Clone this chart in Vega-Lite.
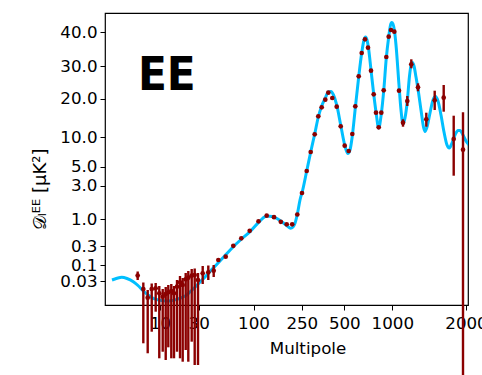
{
  "$schema": "https://vega.github.io/schema/vega-lite/v6.json",
  "width": 363,
  "height": 292,
  "autosize": {"type": "none"},
  "padding": {"left": 105, "top": 13, "right": 14, "bottom": 70},
  "background": "white",
  "config": {
    "view": {"stroke": "black", "strokeWidth": 1.2},
    "axis": {
      "domain": false, "grid": false, "ticks": true, "tickColor": "black", "tickSize": 5, "tickWidth": 1,
      "labelFont": "DejaVu Sans", "labelFontSize": 16.7, "labelColor": "black", "labelOverlap": false, "labelFlush": false,
      "titleFont": "DejaVu Sans", "titleFontSize": 16.7, "titleFontWeight": "normal", "titleColor": "black"
    }
  },
  "datasets": {
    "theory": [
      {"ell": 2, "D": 0.0344}, {"ell": 2.83, "D": 0.0418}, {"ell": 3.62, "D": 0.0462}, {"ell": 4.5, "D": 0.0409},
      {"ell": 5.55, "D": 0.029}, {"ell": 6.33, "D": 0.02357}, {"ell": 7.22, "D": 0.01571}, {"ell": 8.0, "D": 0.01},
      {"ell": 8.88, "D": 0.00822}, {"ell": 10, "D": 0.00715}, {"ell": 13.46, "D": 0.00677}, {"ell": 15.68, "D": 0.00688},
      {"ell": 18.63, "D": 0.00768}, {"ell": 21.21, "D": 0.00865}, {"ell": 23.8, "D": 0.01}, {"ell": 25.5, "D": 0.01429},
      {"ell": 28.97, "D": 0.02357}, {"ell": 31.66, "D": 0.02857}, {"ell": 38.05, "D": 0.0475}, {"ell": 44.43, "D": 0.0716},
      {"ell": 52.99, "D": 0.1053}, {"ell": 63.6, "D": 0.2016}, {"ell": 74.2, "D": 0.2957}, {"ell": 84.03, "D": 0.4763},
      {"ell": 95.53, "D": 0.6785}, {"ell": 120.19, "D": 0.9559}, {"ell": 140.99, "D": 1.1964}, {"ell": 157.45, "D": 1.1667},
      {"ell": 172.98, "D": 1.0476}, {"ell": 188.51, "D": 0.93}, {"ell": 204.97, "D": 0.8263}, {"ell": 214.91, "D": 0.7667},
      {"ell": 222.67, "D": 0.8004}, {"ell": 228.88, "D": 0.8963}, {"ell": 236.03, "D": 1.2976}, {"ell": 244.41, "D": 2.1488},
      {"ell": 255.29, "D": 2.744}, {"ell": 278.82, "D": 4.547}, {"ell": 302.35, "D": 7.475}, {"ell": 325.88, "D": 10.78},
      {"ell": 347.05, "D": 15.22}, {"ell": 367.05, "D": 18.09}, {"ell": 388.23, "D": 20.22}, {"ell": 405.87, "D": 22.07},
      {"ell": 421.75, "D": 22.22}, {"ell": 436.46, "D": 21.14}, {"ell": 455.28, "D": 18.36}, {"ell": 478.81, "D": 13.13},
      {"ell": 504.17, "D": 8.653}, {"ell": 535.42, "D": 7.222}, {"ell": 559.38, "D": 7.811}, {"ell": 583.34, "D": 10.26},
      {"ell": 614.59, "D": 17.57}, {"ell": 650.0, "D": 26.7}, {"ell": 681.26, "D": 33.88}, {"ell": 705.21, "D": 37.67},
      {"ell": 720.84, "D": 38.54}, {"ell": 736.47, "D": 37.67}, {"ell": 752.09, "D": 35.33}, {"ell": 778.13, "D": 28.86},
      {"ell": 806.26, "D": 21.45}, {"ell": 830.22, "D": 16.53}, {"ell": 858.34, "D": 12.35}, {"ell": 885.43, "D": 16.01},
      {"ell": 910.43, "D": 22.38}, {"ell": 937.51, "D": 32.42}, {"ell": 962.51, "D": 38.54}, {"ell": 981.27, "D": 42.04},
      {"ell": 993.77, "D": 42.77}, {"ell": 1009.5, "D": 42.33}, {"ell": 1029.85, "D": 40.29}, {"ell": 1050.2, "D": 36.21},
      {"ell": 1090.9, "D": 24.23}, {"ell": 1118.05, "D": 17.05}, {"ell": 1145.19, "D": 13.39}, {"ell": 1172.33, "D": 14.96},
      {"ell": 1203.54, "D": 19.4}, {"ell": 1233.39, "D": 27.01}, {"ell": 1257.81, "D": 30.67}, {"ell": 1274.09, "D": 31.11},
      {"ell": 1294.45, "D": 30.09}, {"ell": 1321.59, "D": 26.7}, {"ell": 1348.72, "D": 22.99}, {"ell": 1389.43, "D": 17.05},
      {"ell": 1423.35, "D": 12.61}, {"ell": 1443.71, "D": 11.44}, {"ell": 1470.84, "D": 12.61}, {"ell": 1511.55, "D": 16.27},
      {"ell": 1552.26, "D": 19.66}, {"ell": 1586.18, "D": 20.68}, {"ell": 1620.1, "D": 19.4}, {"ell": 1660.81, "D": 15.74},
      {"ell": 1701.52, "D": 11.31}, {"ell": 1742.22, "D": 8.653}, {"ell": 1773.43, "D": 8.148}, {"ell": 1810.07, "D": 8.99},
      {"ell": 1850.78, "D": 10.52}, {"ell": 1891.48, "D": 11.7}, {"ell": 1918.62, "D": 11.7}, {"ell": 1959.33, "D": 10.52},
      {"ell": 2000, "D": 9.327}, {"ell": 2054, "D": 8.485}
    ],
    "pts": [
      {"ell": 6.28, "D": 0.0541}, {"ell": 7.22, "D": 0.01857}, {"ell": 7.95, "D": 0.00855}, {"ell": 8.62, "D": 0.01857},
      {"ell": 9.28, "D": 0.01957}, {"ell": 9.88, "D": 0.01243}, {"ell": 11.4, "D": 0.00908}, {"ell": 12.95, "D": 0.01143},
      {"ell": 14.29, "D": 0.01386}, {"ell": 15.84, "D": 0.01571}, {"ell": 17.24, "D": 0.01243}, {"ell": 18.79, "D": 0.02186},
      {"ell": 20.34, "D": 0.02814}, {"ell": 21.73, "D": 0.02429}, {"ell": 23.28, "D": 0.0374}, {"ell": 24.63, "D": 0.0444},
      {"ell": 26.38, "D": 0.0532}, {"ell": 27.93, "D": 0.05625}, {"ell": 29.64, "D": 0.0344},
      {"ell": 35.11, "D": 0.0637}, {"ell": 42.26, "D": 0.0681}, {"ell": 49.16, "D": 0.0751}, {"ell": 55.04, "D": 0.1535},
      {"ell": 64.49, "D": 0.1888}, {"ell": 74.2, "D": 0.313}, {"ell": 84.42, "D": 0.5074}, {"ell": 95.15, "D": 0.7019},
      {"ell": 115.53, "D": 0.9482}, {"ell": 140.99, "D": 1.2143}, {"ell": 163.66, "D": 1.125}, {"ell": 184.78, "D": 0.9352},
      {"ell": 203.11, "D": 0.8704}, {"ell": 220.19, "D": 0.8704}, {"ell": 236.03, "D": 1.2857}, {"ell": 251.18, "D": 2.5655},
      {"ell": 278.82, "D": 4.547}, {"ell": 302.35, "D": 7.475}, {"ell": 325.88, "D": 10.705}, {"ell": 347.05, "D": 15.405},
      {"ell": 367.05, "D": 17.755}, {"ell": 388.23, "D": 19.739}, {"ell": 405.87, "D": 21.852}, {"ell": 429.4, "D": 20.216},
      {"ell": 455.28, "D": 17.911}, {"ell": 478.81, "D": 12.794}, {"ell": 504.17, "D": 8.535}, {"ell": 545.83, "D": 7.643},
      {"ell": 583.34, "D": 10.783}, {"ell": 614.59, "D": 18.016}, {"ell": 650.0, "D": 26.914}, {"ell": 681.26, "D": 33.877},
      {"ell": 715.63, "D": 37.871}, {"ell": 746.88, "D": 35.422}, {"ell": 778.13, "D": 28.642}, {"ell": 806.26, "D": 21.358},
      {"ell": 830.22, "D": 16.345}, {"ell": 858.34, "D": 12.533}, {"ell": 885.43, "D": 16.345}, {"ell": 910.43, "D": 22.593},
      {"ell": 937.51, "D": 32.711}, {"ell": 962.51, "D": 38.628}, {"ell": 986.47, "D": 40.583}, {"ell": 1027.14, "D": 40.087},
      {"ell": 1090.91, "D": 22.469}, {"ell": 1145.19, "D": 13.734}, {"ell": 1203.54, "D": 19.4}, {"ell": 1257.81, "D": 30.583},
      {"ell": 1348.72, "D": 23.518}, {"ell": 1461.35, "D": 14.621}, {"ell": 1575.33, "D": 19.582}, {"ell": 1697.45, "D": 20.309},
      {"ell": 1833.14, "D": 9.663}, {"ell": 1959.33, "D": 7.862}
    ],
    "bars": [
      {"ell": 6.28, "lo": 0.0344, "hi": 0.0716}, {"ell": 7.22, "lo": -0.0408, "hi": 0.02786}, {"ell": 7.95, "lo": -0.0569, "hi": 0.01714},
      {"ell": 8.62, "lo": -0.0221, "hi": 0.02643}, {"ell": 9.28, "lo": 0.00189, "hi": 0.02714}, {"ell": 9.88, "lo": -0.065, "hi": 0.02286},
      {"ell": 11.4, "lo": -0.0544, "hi": 0.01857}, {"ell": 12.95, "lo": -0.0677, "hi": 0.02143}, {"ell": 14.29, "lo": -0.0473, "hi": 0.02429},
      {"ell": 15.84, "lo": -0.065, "hi": 0.02571}, {"ell": 17.24, "lo": -0.065, "hi": 0.02286}, {"ell": 18.79, "lo": -0.0544, "hi": 0.0344},
      {"ell": 20.34, "lo": -0.065, "hi": 0.0519}, {"ell": 21.73, "lo": -0.0705, "hi": 0.0431}, {"ell": 23.28, "lo": -0.0516, "hi": 0.065},
      {"ell": 24.63, "lo": -0.0705, "hi": 0.0738}, {"ell": 26.38, "lo": -0.0382, "hi": 0.0825}, {"ell": 27.93, "lo": -0.0758, "hi": 0.0847},
      {"ell": 29.64, "lo": -0.0758, "hi": 0.065}, {"ell": 35.11, "lo": 0.02571, "hi": 0.0956}, {"ell": 42.26, "lo": 0.0344, "hi": 0.0978},
      {"ell": 49.16, "lo": 0.0475, "hi": 0.1},
      {"ell": 1145.19, "lo": 12.689, "hi": 14.621}, {"ell": 1203.54, "lo": 18.094, "hi": 20.833}, {"ell": 1257.81, "lo": 29.383, "hi": 32.04},
      {"ell": 1348.72, "lo": 22.284, "hi": 24.753}, {"ell": 1461.35, "lo": 12.689, "hi": 16.345}, {"ell": 1575.33, "lo": 17.05, "hi": 22.469},
      {"ell": 1697.45, "lo": 16.606, "hi": 24.228}, {"ell": 1833.14, "lo": 4.053, "hi": 15.561}, {"ell": 1959.33, "lo": -0.1, "hi": 16.449}
    ],
    "label": [{"ell": 6.33, "D": 22.69, "text": "EE"}]
  },
  "encoding": {
    "x": {
      "field": "ell", "type": "quantitative", "title": "Multipole",
      "scale": {"domain": [2, 10, 30, 100, 250, 500, 1000, 2000, 2500], "range": [7, 55, 93.7, 148.5, 196.8, 239.3, 287.3, 361, 398], "zero": false, "nice": false},
      "axis": {"values": [10, 30, 100, 250, 500, 1000, 2000], "format": "d", "labelPadding": 5, "titlePadding": 9}
    },
    "y": {
      "field": "D", "type": "quantitative", "title": "𝒟ₗᴱᴱ  [μK²]",
      "scale": {"domain": [-0.1, 0, 0.003, 0.01, 0.03, 0.1, 0.3, 1, 3, 5, 10, 20, 30, 40, 50], "range": [367, 305, 295, 282, 268, 252, 233.3, 206.3, 172.7, 153.7, 124, 85.7, 53.3, 19, -15.3], "zero": false, "nice": false},
      "axis": {"values": [0.03, 0.1, 0.3, 1, 3, 5, 10, 20, 30, 40], "labelExpr": "datum.value < 0.05 ? '0.03' : format(datum.value, '.1f')", "labelPadding": 3, "titlePadding": 10, "titleFontSize": 18}
    }
  },
  "layer": [
    {
      "data": {"name": "theory"},
      "mark": {"type": "line", "color": "#00BFFF", "strokeWidth": 3, "interpolate": "monotone", "clip": true}
    },
    {
      "data": {"name": "bars"},
      "mark": {"type": "rule", "color": "#8B0000", "strokeWidth": 2.4, "clip": false},
      "encoding": {
        "y": {"field": "lo", "type": "quantitative", "title": "𝒟ₗᴱᴱ  [μK²]"},
        "y2": {"field": "hi"}
      }
    },
    {
      "data": {"name": "pts"},
      "mark": {"type": "point", "filled": true, "color": "#8B0000", "size": 22, "opacity": 1}
    },
    {
      "data": {"name": "label"},
      "mark": {"type": "text", "align": "left", "baseline": "alphabetic", "font": "DejaVu Sans Condensed", "fontWeight": "bold", "fontSize": 47, "color": "black"},
      "encoding": {"text": {"field": "text"}}
    }
  ]
}
